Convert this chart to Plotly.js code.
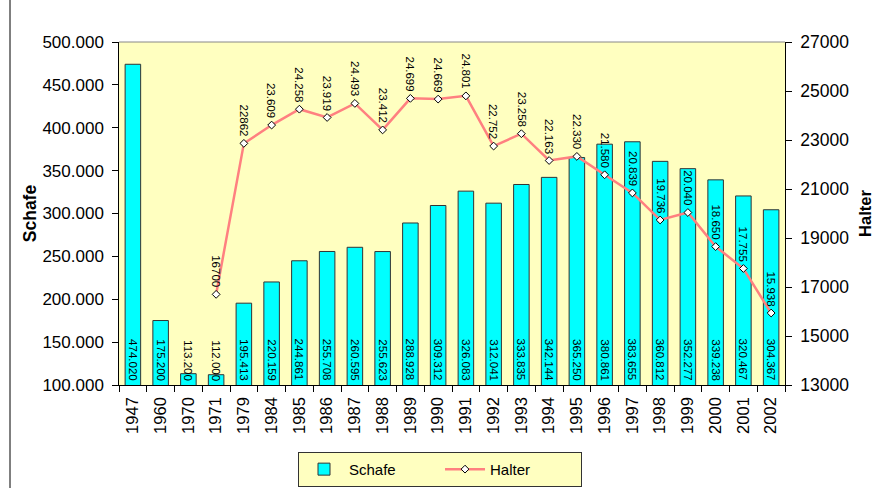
<!DOCTYPE html>
<html><head><meta charset="utf-8">
<script src="https://cdn.plot.ly/plotly-3.0.1.min.js"></script>
<style>html,body{margin:0;padding:0;background:#fff;}#c{width:874px;height:488px;}</style>
</head><body><div id="c"></div>
<script>
var years = ['1947','1960','1970','1971','1979','1984','1985','1986','1987','1988','1989','1990','1991','1992','1993','1994','1995','1996','1997','1998','1999','2000','2001','2002'];
var schafe = [474020,175200,113200,112000,195413,220159,244861,255708,260595,255623,288928,309312,326083,312041,333835,342144,365250,380861,383655,360812,352277,339238,320467,304367];
var halterYears = ['1971','1979','1984','1985','1986','1987','1988','1989','1990','1991','1992','1993','1994','1995','1996','1997','1998','1999','2000','2001','2002'];
var halter = [16700,22862,23609,24258,23919,24493,23412,24699,24669,24801,22752,23258,22163,22330,21580,20839,19736,20040,18650,17755,15938];
var halterLabels = ['16700','22862','23.609','24.258','23.919','24.493','23.412','24.699','24.669','24.801','22.752','23.258','22.163','22.330','21.580','20.839','19.736','20.040','18.650','17.755','15.938'];

var FONT = 'Liberation Sans, Arial, sans-serif';
var Y1MIN = 100000, Y1MAX = 500000;

function fmt(v){ return String(v).replace(/\B(?=(\d{3})+(?!\d))/g, '.'); }

var traces = [
  {type:'bar', name:'Schafe', x:years, y:schafe,
   marker:{color:'#00FFFF', line:{color:'#333333', width:1}},
   hoverinfo:'none'},
  {type:'scatter', mode:'lines+markers', name:'Halter', x:halterYears, y:halter, yaxis:'y2',
   line:{color:'#FF8080', width:2.5},
   marker:{symbol:'diamond', size:6, color:'#FFFFFF', line:{color:'#000', width:1}},
   hoverinfo:'none'}
];

var annotations = halterYears.map(function(yr,i){
  return {x:years.indexOf(yr), y:halter[i], xref:'x', yref:'y2', text:halterLabels[i], showarrow:false,
    textangle:90, yanchor:'bottom', xanchor:'center', yshift:5,
    font:{family:FONT, size:11.5, color:'#000'}};
}).concat(years.map(function(yr,i){
  return {x:i, y:Y1MIN, xref:'x', yref:'y', text:fmt(schafe[i]), showarrow:false,
    textangle:90, yanchor:'bottom', xanchor:'center', yshift:2,
    font:{family:FONT, size:11.5, color:'#000'}};
}));

var layout = {
  width:874, height:488,
  margin:{l:119, r:89, t:42, b:103, autoexpand:false},
  paper_bgcolor:'#FFFFFF', plot_bgcolor:'#FFFFC0',
  separators:',.',
  font:{family:FONT, size:16, color:'#000'},
  showlegend:true,
  bargap:0.44,
  xaxis:{type:'category', range:[-0.5, years.length-0.5], autorange:false, tickangle:-90, showline:true, linecolor:'#000', linewidth:1,
    ticks:'outside', ticklen:6, tickcolor:'#000', tickson:'boundaries', ticksuffix:' ',
    tickfont:{family:FONT, size:16.5}, showgrid:false, zeroline:false, fixedrange:true, automargin:false},
  yaxis:{range:[Y1MIN,Y1MAX], dtick:50000, tickformat:',.0f', showline:true, linecolor:'#000', linewidth:1,
    ticks:'outside', ticklen:6, tickcolor:'#000', showgrid:false, zeroline:false, ticksuffix:' ',
    tickfont:{family:FONT, size:17}, automargin:false,
    title:{text:'<b>Schafe</b>', font:{family:FONT, size:17.5}, standoff:1}},
  yaxis2:{overlaying:'y', side:'right', range:[13000,27000], tick0:13000, dtick:2000, tickformat:'d',
    showline:true, linecolor:'#000', linewidth:1, ticks:'outside', ticklen:6, tickcolor:'#000', tickprefix:' ',
    showgrid:false, zeroline:false, tickfont:{family:FONT, size:17.5}, automargin:false,
    title:{text:'<b>Halter</b>', font:{family:FONT, size:16.5}, standoff:14}},
  legend:{orientation:'h', x:0.482, xanchor:'center', y:-0.195, yanchor:'top',
    bgcolor:'#FFFFC0', bordercolor:'#333333', borderwidth:1,
    font:{family:FONT, size:15}, entrywidth:86, itemwidth:40},
  annotations:annotations,
  shapes:[
    {type:'line', xref:'paper', yref:'paper', x0:0, x1:1, y0:1, y1:1, line:{color:'#888888', width:1}},
    {type:'line', xref:'paper', yref:'paper', x0:(10-119)/666, x1:(10-119)/666, y0:(385+10)/343, y1:(385-490)/343, line:{color:'#000', width:1}}
  ]
};

Plotly.newPlot('c', traces, layout, {staticPlot:true, displayModeBar:false});
</script></body></html>
